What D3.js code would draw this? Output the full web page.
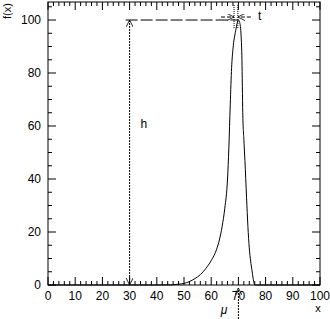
<!DOCTYPE html>
<html>
<head>
<meta charset="utf-8" />
<title>f(x)</title>
<script src="https://d3js.org/d3.v7.min.js"></script>
<style>
  body { margin: 0; background: #fff; }
  text { font-family: "Liberation Sans", Arial, sans-serif; }
</style>
</head>
<body>
<div id="chart"></div>
<script>
// curve values
const xs = [0, 40, 45, 48, 50, 52, 54, 56, 58, 60, 62, 63, 64, 65, 66, 66.5, 67, 67.5, 68, 69, 70,
  70.5, 71, 71.3, 71.6, 72, 72.4, 73, 73.5, 74, 74.5, 75, 75.4, 75.8, 76, 100];
const fs = [0, 0, 0.05, 0.3, 0.6, 1.3, 2.4, 3.9, 6.2, 9.2, 13.5, 17, 22, 29, 40, 52, 68, 82, 89, 96, 100,
  99, 94, 85, 65, 55, 47, 33, 22, 14, 9, 5.5, 2.6, 0.5, 0, 0];
const xTicks = [0, 10, 20, 30, 40, 50, 60, 70, 80, 90, 100];
const yTicks = [0, 20, 40, 60, 80, 100];

const mu = 70, h = 100, hPos = 30, tLeft = 68.4, tRight = 69.8;

const width = 330, height = 319;
const svg = d3.select('#chart').append('svg')
  .attr('width', width).attr('height', height);

const x = d3.scaleLinear().domain([0, 100]).range([48, 320]);
const y = d3.scaleLinear().domain([0, 106.8]).range([285, 2]);

// arrow markers
const defs = svg.append('defs');
defs.append('marker').attr('id', 'arr')
  .attr('viewBox', '0 0 10 10').attr('refX', 10).attr('refY', 5)
  .attr('markerWidth', 7).attr('markerHeight', 7).attr('orient', 'auto-start-reverse')
  .attr('markerUnits', 'userSpaceOnUse')
  .append('path').attr('d', 'M0,0 L10,5 L0,10').attr('fill', 'none').attr('stroke', '#000').attr('stroke-width', 1.2);

// frame
svg.append('rect')
  .attr('x', x(0)).attr('y', y(106.8))
  .attr('width', x(100) - x(0)).attr('height', y(0) - y(106.8))
  .attr('fill', 'none').attr('stroke', '#000');

// ticks inside the frame, on all four sides
const g = svg.append('g').attr('stroke', '#000').attr('stroke-width', 1);
d3.range(0, 101, 2).forEach(v => {
  const len = v % 10 === 0 ? 8 : 4;
  g.append('line').attr('x1', x(v)).attr('x2', x(v)).attr('y1', y(0)).attr('y2', y(0) - len);
  g.append('line').attr('x1', x(v)).attr('x2', x(v)).attr('y1', y(106.8)).attr('y2', y(106.8) + len);
});
d3.range(0, 106, 5).forEach(v => {
  const len = v % 20 === 0 ? 8 : 4;
  g.append('line').attr('x1', x(0)).attr('x2', x(0) + len).attr('y1', y(v)).attr('y2', y(v));
  g.append('line').attr('x1', x(100)).attr('x2', x(100) - len).attr('y1', y(v)).attr('y2', y(v));
});

// tick labels
svg.append('g').selectAll('text').data(xTicks).join('text')
  .attr('x', d => x(d)).attr('y', 300)
  .attr('text-anchor', 'middle').attr('font-size', 12).text(d => d);
svg.append('g').selectAll('text').data(yTicks).join('text')
  .attr('x', 41).attr('y', d => y(d) + 4)
  .attr('text-anchor', 'end').attr('font-size', 12).text(d => d);

// axis titles
svg.append('text').attr('x', 318).attr('y', 312).attr('text-anchor', 'middle')
  .attr('font-size', 11).text('x');
svg.append('text').attr('transform', 'translate(11,11) rotate(-90)')
  .attr('text-anchor', 'middle').attr('font-size', 11).text('f(x)');

// curve
const line = d3.line().x((d, i) => x(xs[i])).y(d => y(d)).curve(d3.curveMonotoneX);
svg.append('path').datum(fs).attr('d', line)
  .attr('fill', 'none').attr('stroke', '#000').attr('stroke-width', 1);

// h dimension line
svg.append('line')
  .attr('x1', x(hPos)).attr('x2', x(hPos)).attr('y1', y(h)).attr('y2', y(0))
  .attr('stroke', '#000').attr('stroke-dasharray', '2,1')
  .attr('marker-start', 'url(#arr)').attr('marker-end', 'url(#arr)');
svg.append('line')
  .attr('x1', x(hPos) - 4).attr('x2', x(mu)).attr('y1', y(h)).attr('y2', y(h))
  .attr('stroke', '#000').attr('stroke-dasharray', '12,3');
svg.append('text').attr('x', x(hPos) + 11).attr('y', 128).attr('font-size', 12).text('h');

// t dimension
[tLeft, tRight].forEach(v => {
  svg.append('line').attr('x1', x(v)).attr('x2', x(v)).attr('y1', 5).attr('y2', 28)
    .attr('stroke', '#000').attr('stroke-dasharray', '1,1');
});
svg.append('line').attr('x1', x(tLeft) - 13).attr('x2', x(tLeft)).attr('y1', 17).attr('y2', 17)
  .attr('stroke', '#000').attr('stroke-dasharray', '4,2').attr('marker-end', 'url(#arr)');
svg.append('line').attr('x1', x(tRight) + 13).attr('x2', x(tRight)).attr('y1', 17).attr('y2', 17)
  .attr('stroke', '#000').attr('stroke-dasharray', '4,2').attr('marker-end', 'url(#arr)');
svg.append('text').attr('x', 258).attr('y', 20).attr('font-size', 12).text('t');

// mu marker
svg.append('line').attr('x1', x(mu)).attr('x2', x(mu)).attr('y1', 319).attr('y2', 288)
  .attr('stroke', '#000').attr('stroke-dasharray', '2,1').attr('marker-end', 'url(#arr)');
svg.append('text').attr('x', 224).attr('y', 314).attr('text-anchor', 'middle')
  .attr('font-size', 12).attr('font-style', 'italic').text('μ');
</script>
</body>
</html>
